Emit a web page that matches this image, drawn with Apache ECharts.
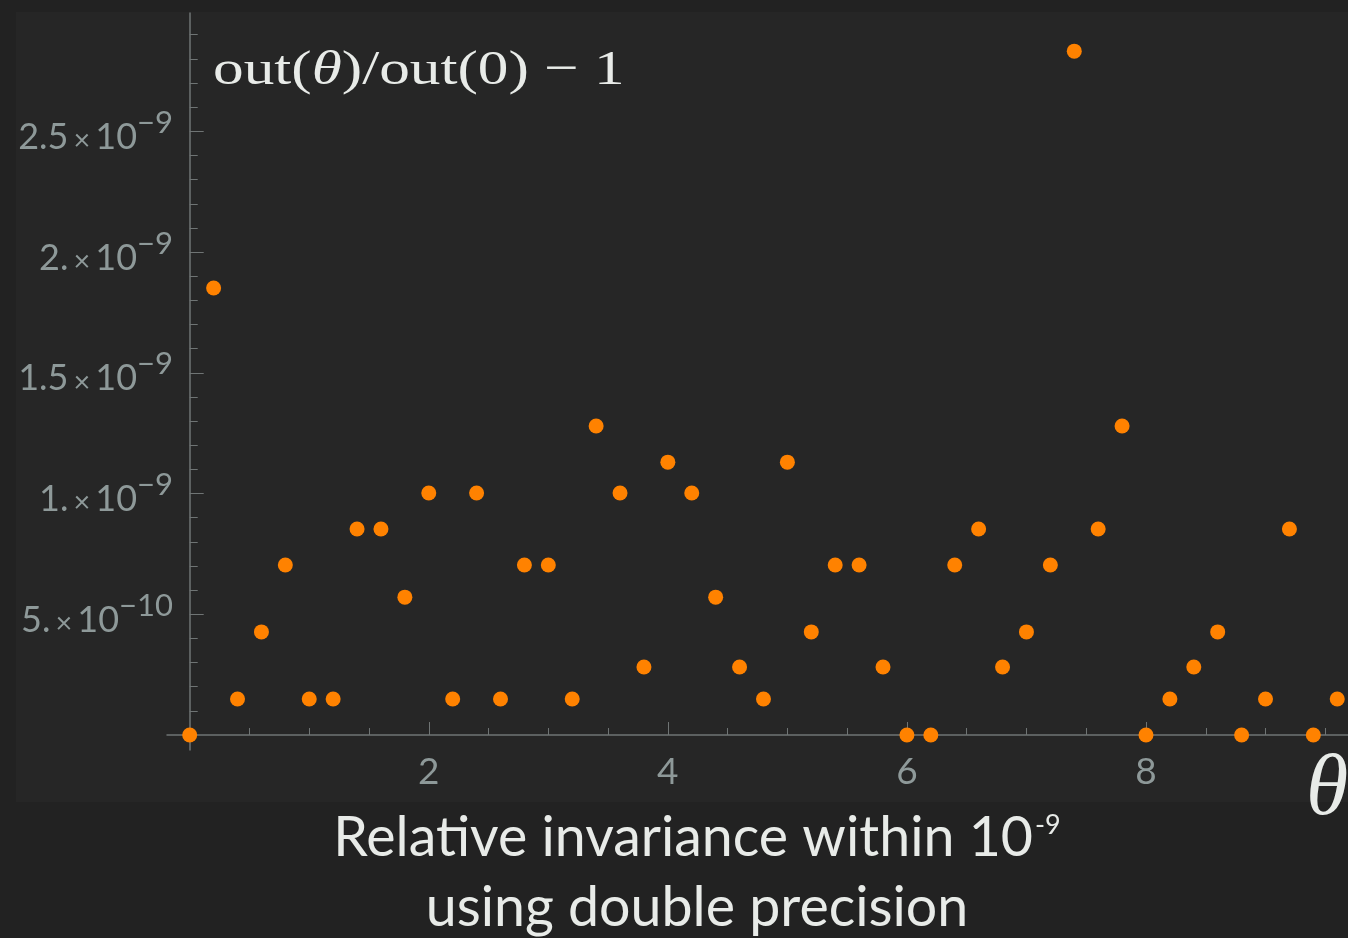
<!DOCTYPE html>
<html>
<head>
<meta charset="utf-8">
<title>Relative invariance</title>
<script src="https://cdn.jsdelivr.net/npm/echarts@6/dist/echarts.min.js"></script>
<style>
  html, body { margin: 0; padding: 0; background: #222222; }
  #chart { width: 1348px; height: 938px; }
</style>
</head>
<body>
<div id="chart"></div>
<script>
// Rotation angle samples
const theta = [
  0.0, 0.2, 0.4, 0.6, 0.8, 1.0, 1.2, 1.4, 1.6, 1.8,
  2.0, 2.2, 2.4, 2.6, 2.8, 3.0, 3.2, 3.4, 3.6, 3.8,
  4.0, 4.2, 4.4, 4.6, 4.8, 5.0, 5.2, 5.4, 5.6, 5.8,
  6.0, 6.2, 6.4, 6.6, 6.8, 7.0, 7.2, 7.4, 7.6, 7.8,
  8.0, 8.2, 8.4, 8.6, 8.8, 9.0, 9.2, 9.4, 9.6
];

// out(theta)/out(0) - 1
const relDeviation = [
  0, 1.851e-9, 0.149e-9, 0.427e-9, 0.704e-9, 0.149e-9, 0.149e-9, 0.853e-9, 0.853e-9, 0.571e-9,
  1.002e-9, 0.149e-9, 1.002e-9, 0.149e-9, 0.704e-9, 0.704e-9, 0.149e-9, 1.280e-9, 1.002e-9, 0.282e-9,
  1.130e-9, 1.002e-9, 0.571e-9, 0.282e-9, 0.149e-9, 1.130e-9, 0.427e-9, 0.704e-9, 0.704e-9, 0.282e-9,
  0, 0, 0.704e-9, 0.853e-9, 0.282e-9, 0.427e-9, 0.704e-9, 2.832e-9, 0.853e-9, 1.280e-9,
  0, 0.149e-9, 0.282e-9, 0.427e-9, 0, 0.149e-9, 0.853e-9, 0, 0.149e-9
];

// Axis ticks
const xMajorTicks = [2, 4, 6, 8];
const xMinorTicks = [0.5, 1, 1.5, 2.5, 3, 3.5, 4.5, 5, 5.5, 6.5, 7, 7.5, 8.5, 9, 9.5];
const yMajorTicks = [0.5e-9, 1e-9, 1.5e-9, 2e-9, 2.5e-9];
const yMajorMantissa = ['5.', '1.', '1.5', '2.', '2.5'];
const yMajorExponent = ['\u221210', '\u22129', '\u22129', '\u22129', '\u22129'];
const yMinorTicks = [
  0.1e-9, 0.2e-9, 0.3e-9, 0.4e-9, 0.6e-9, 0.7e-9, 0.8e-9, 0.9e-9,
  1.1e-9, 1.2e-9, 1.3e-9, 1.4e-9, 1.6e-9, 1.7e-9, 1.8e-9, 1.9e-9,
  2.1e-9, 2.2e-9, 2.3e-9, 2.4e-9, 2.6e-9, 2.7e-9, 2.8e-9, 2.9e-9
];

const X_MIN = -0.19, X_MAX = 9.69;
const Y_MIN = -0.062e-9, Y_MAX = 2.99e-9;

const AXIS_COLOR = '#6f7474';
const LABEL_COLOR = '#8e9999';
const TEXT_COLOR = '#e8ebe8';
const DOT_COLOR = '#ff8200';
const SANS = 'Lato, "Open Sans", sans-serif';
const SERIF = '"Liberation Serif", "Times New Roman", serif';

function yLabel(v) {
  let i = 0;
  for (let k = 0; k < yMajorTicks.length; k++) {
    if (Math.abs(yMajorTicks[k] - v) < 1e-13) { i = k; }
  }
  return '{m|' + yMajorMantissa[i] + '}{x|\u00d7}{m|10}{e|' + yMajorExponent[i] + '}';
}

const chart = echarts.init(document.getElementById('chart'), null, { renderer: 'canvas' });

const baseX = {
  type: 'value', gridIndex: 0, position: 'bottom',
  min: X_MIN, max: X_MAX,
  splitLine: { show: false }
};
const baseY = {
  type: 'value', gridIndex: 0, position: 'left',
  min: Y_MIN, max: Y_MAX,
  splitLine: { show: false }
};

chart.setOption({
  backgroundColor: '#222222',
  animation: false,
  graphic: [
    {
      type: 'rect', z: -10, silent: true,
      shape: { x: 16, y: 12, width: 1332, height: 790 },
      style: { fill: '#262626' }
    },
    {
      // plot label
      type: 'text', z: 10, silent: true,
      x: 213, y: 47, scaleX: 1.25,
      style: {
        text: '{t|out(}{i|\u03b8}{t|)/out(0) \u2212 1}',
        fill: TEXT_COLOR,
        rich: {
          t: { fontFamily: SERIF, fontSize: 49, fill: TEXT_COLOR },
          i: { fontFamily: SERIF, fontSize: 49, fontStyle: 'italic', fill: TEXT_COLOR }
        }
      }
    },
    {
      // horizontal axis label
      type: 'text', z: 10, silent: true,
      x: 1306, y: 748,
      style: {
        text: '\u03b8',
        fill: TEXT_COLOR,
        fontFamily: SERIF, fontStyle: 'italic', fontSize: 86
      }
    }
  ],
  title: [
    {
      left: 692, top: 798, textAlign: 'center',
      text: '{a|Relative invariance within 10}{s|-9}\n{a|using double precision}',
      textStyle: {
        fontWeight: 'normal',
        rich: {
          a: { fontFamily: SANS, fontWeight: 'normal', fontSize: 55.5, color: TEXT_COLOR, lineHeight: 70 },
          s: { fontFamily: SANS, fontWeight: 'normal', fontSize: 27, color: TEXT_COLOR, verticalAlign: 'top', padding: [9, 0, 0, 2] }
        }
      }
    }
  ],
  grid: { left: 167, right: 0, top: 13, bottom: 188, containLabel: false, outerBoundsMode: 'none' },
  xAxis: [
    Object.assign({}, baseX, {
      axisLine: { show: true, onZero: true, onZeroAxisIndex: 0, lineStyle: { color: AXIS_COLOR, width: 1.5 } },
      axisTick: { show: true, inside: true, length: 13, customValues: xMajorTicks, lineStyle: { color: AXIS_COLOR, width: 1 } },
      axisLabel: {
        show: true, customValues: xMajorTicks, margin: 4,
        color: LABEL_COLOR, fontFamily: SANS, fontSize: 37
      }
    }),
    Object.assign({}, baseX, {
      axisLine: { show: false, onZero: true, onZeroAxisIndex: 0 },
      axisTick: { show: true, inside: true, length: 7, customValues: xMinorTicks, lineStyle: { color: AXIS_COLOR, width: 1 } },
      axisLabel: { show: false }
    })
  ],
  yAxis: [
    Object.assign({}, baseY, {
      axisLine: { show: true, onZero: true, onZeroAxisIndex: 0, lineStyle: { color: AXIS_COLOR, width: 1.5 } },
      axisTick: { show: true, inside: true, length: 14, customValues: yMajorTicks, lineStyle: { color: AXIS_COLOR, width: 1 } },
      axisLabel: {
        show: true, customValues: yMajorTicks, margin: -6,
        formatter: yLabel,
        rich: {
          m: { fontFamily: SANS, fontSize: 36, color: LABEL_COLOR, verticalAlign: 'bottom', lineHeight: 40 },
          x: { fontFamily: SANS, fontSize: 29, color: LABEL_COLOR, verticalAlign: 'bottom', lineHeight: 40, padding: [0, 5, 0, 5] },
          e: { fontFamily: SANS, fontSize: 31, color: LABEL_COLOR, verticalAlign: 'bottom', padding: [0, 0, 17, 0] }
        }
      }
    }),
    Object.assign({}, baseY, {
      axisLine: { show: false, onZero: true, onZeroAxisIndex: 0 },
      axisTick: { show: true, inside: true, length: 8, customValues: yMinorTicks, lineStyle: { color: AXIS_COLOR, width: 1 } },
      axisLabel: { show: false }
    })
  ],
  series: [
    {
      type: 'scatter',
      name: 'out(\u03b8)/out(0) \u2212 1',
      xAxisIndex: 0, yAxisIndex: 0,
      symbol: 'circle',
      symbolSize: 15,
      itemStyle: { color: DOT_COLOR, opacity: 1 },
      z: 5,
      data: theta.map((t, i) => [t, relDeviation[i]])
    }
  ]
});
</script>
</body>
</html>
